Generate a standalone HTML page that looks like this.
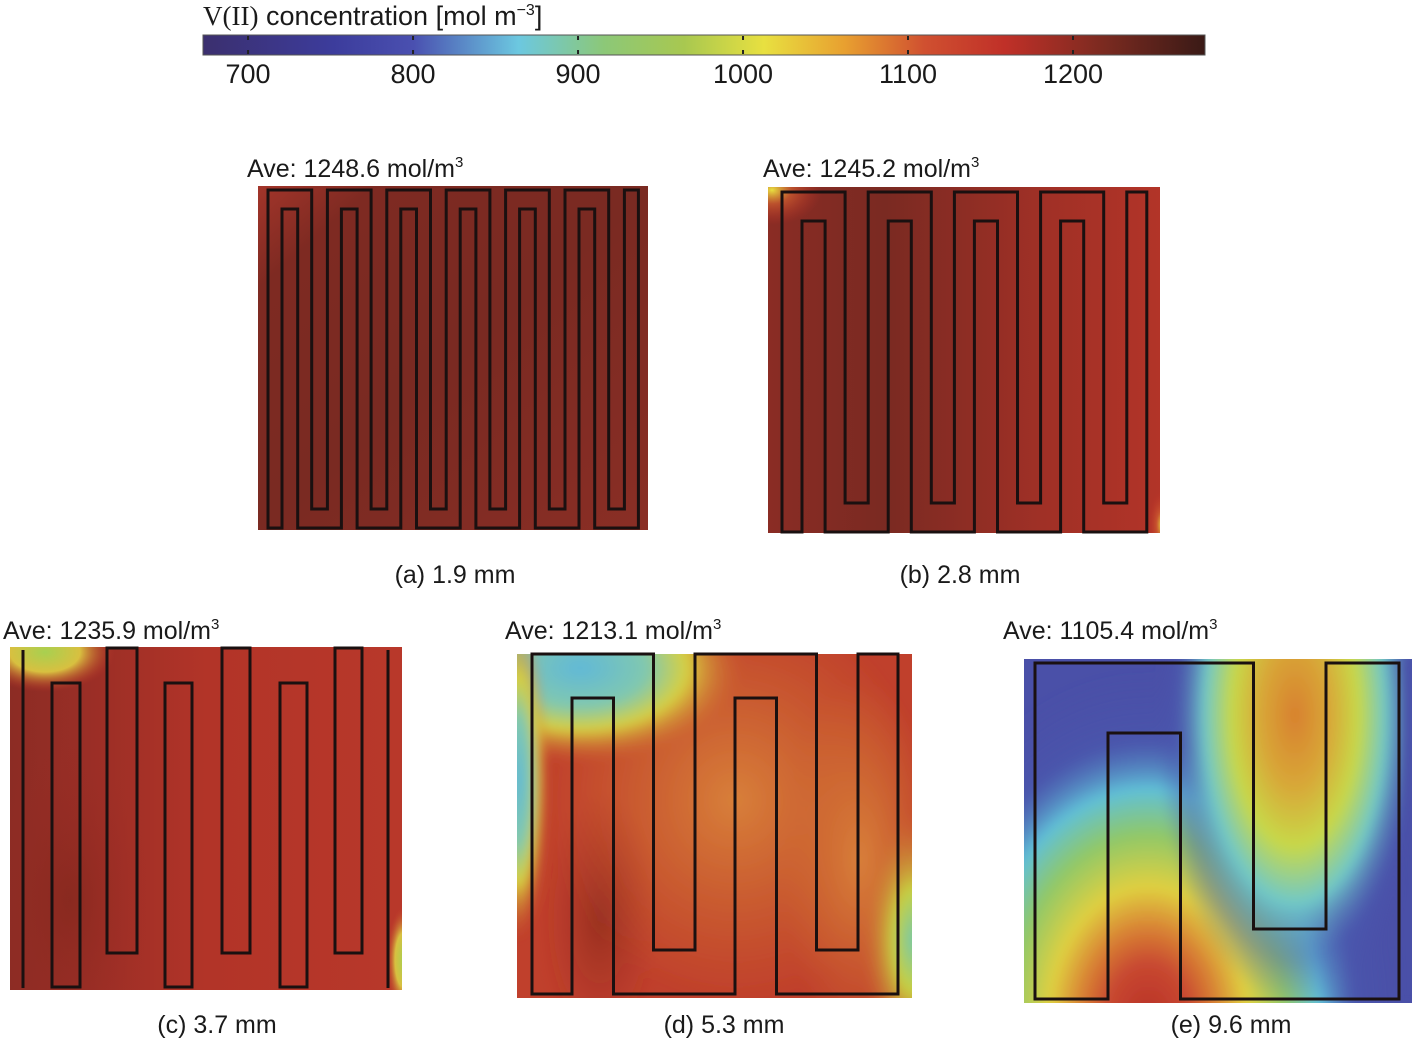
<!DOCTYPE html>
<html><head><meta charset="utf-8"><style>
html,body{margin:0;padding:0;background:#fff;width:1417px;height:1040px;overflow:hidden;}
svg{display:block;}
text{font-family:"Liberation Sans",sans-serif;fill:#1a1a1a;}
</style></head><body>
<svg id="fig" width="1417" height="1040" viewBox="0 0 1417 1040" xmlns="http://www.w3.org/2000/svg">
<defs>
  <linearGradient id="jet" x1="0" x2="1" y1="0" y2="0">
    <stop offset="0" stop-color="#3b2f6e"/>
    <stop offset="0.13" stop-color="#3c3c9c"/>
    <stop offset="0.21" stop-color="#4a50b0"/>
    <stop offset="0.315" stop-color="#6cc8e0"/>
    <stop offset="0.4" stop-color="#8cc878"/>
    <stop offset="0.48" stop-color="#a8c850"/>
    <stop offset="0.56" stop-color="#e8e040"/>
    <stop offset="0.64" stop-color="#e8a030"/>
    <stop offset="0.72" stop-color="#d05030"/>
    <stop offset="0.8" stop-color="#c03028"/>
    <stop offset="0.9" stop-color="#7a2a20"/>
    <stop offset="1" stop-color="#3a1a16"/>
  </linearGradient>
  <linearGradient id="ga" x1="0" x2="1" y1="0" y2="1">
    <stop offset="0" stop-color="#a3352a"/><stop offset="0.15" stop-color="#7e2a22"/>
    <stop offset="0.5" stop-color="#7a2a22"/><stop offset="1" stop-color="#8a2e25"/>
  </linearGradient>
  <linearGradient id="gb" x1="0" x2="1" y1="0" y2="0">
    <stop offset="0" stop-color="#8a2c24"/><stop offset="0.3" stop-color="#7a2a22"/>
    <stop offset="0.7" stop-color="#a03026"/><stop offset="1" stop-color="#b23428"/>
  </linearGradient>
  <radialGradient id="yl" cx="0.5" cy="0.5" r="0.5"><stop offset="0" stop-color="#e8e040"/><stop offset="0.4" stop-color="#d06030" stop-opacity="0.7"/><stop offset="1" stop-color="#c03028" stop-opacity="0"/></radialGradient>
  <linearGradient id="gc" x1="0" x2="1" y1="0" y2="0">
    <stop offset="0" stop-color="#8c2c24"/><stop offset="0.2" stop-color="#9a2e26"/>
    <stop offset="0.5" stop-color="#b23428"/><stop offset="1" stop-color="#b8382a"/>
  </linearGradient>
  <radialGradient id="cTL" cx="0.5" cy="0.5" r="0.5"><stop offset="0" stop-color="#a8d050"/><stop offset="0.5" stop-color="#d8c040"/><stop offset="1" stop-color="#c03028" stop-opacity="0"/></radialGradient>
  <radialGradient id="dTL" cx="0.5" cy="0.5" r="0.5"><stop offset="0" stop-color="#60b8d8"/><stop offset="0.4" stop-color="#80c8b0"/><stop offset="0.65" stop-color="#d8d040"/><stop offset="1" stop-color="#d06030" stop-opacity="0"/></radialGradient>
  <radialGradient id="dR" cx="0.5" cy="0.5" r="0.5"><stop offset="0" stop-color="#70c8b0"/><stop offset="0.4" stop-color="#c8d040"/><stop offset="1" stop-color="#d06030" stop-opacity="0"/></radialGradient>
  <radialGradient id="dark" cx="0.5" cy="0.5" r="0.5"><stop offset="0" stop-color="#7a2418" stop-opacity="0.8"/><stop offset="1" stop-color="#a02c24" stop-opacity="0"/></radialGradient>
  <radialGradient id="orng" cx="0.5" cy="0.5" r="0.5"><stop offset="0" stop-color="#d8803a"/><stop offset="1" stop-color="#d07030" stop-opacity="0"/></radialGradient>
  <radialGradient id="eB" cx="0.5" cy="0.5" r="0.5">
    <stop offset="0" stop-color="#b83028"/><stop offset="0.16" stop-color="#c84830"/><stop offset="0.26" stop-color="#d88034"/>
    <stop offset="0.38" stop-color="#e0d040"/><stop offset="0.53" stop-color="#90c868"/>
    <stop offset="0.66" stop-color="#60c0d8"/><stop offset="0.8" stop-color="#4a5ab0" stop-opacity="0.5"/>
    <stop offset="1" stop-color="#4a50a8" stop-opacity="0"/>
  </radialGradient>
  <radialGradient id="eT" cx="0.5" cy="0.5" r="0.5">
    <stop offset="0" stop-color="#d8802e"/><stop offset="0.25" stop-color="#d8a838"/>
    <stop offset="0.45" stop-color="#c8d848"/><stop offset="0.65" stop-color="#70c8c8"/>
    <stop offset="0.85" stop-color="#4a5ab0" stop-opacity="0.4"/>
    <stop offset="1" stop-color="#4a50a8" stop-opacity="0"/>
  </radialGradient>
  <filter id="blur" x="-20%" y="-20%" width="140%" height="140%"><feGaussianBlur stdDeviation="5"/></filter>
  <clipPath id="clipD"><rect x="517" y="654" width="395" height="344"/></clipPath>
  <clipPath id="clipE"><rect x="1024" y="659" width="388" height="344"/></clipPath>
  <clipPath id="clipC"><rect x="10" y="647" width="392" height="343"/></clipPath>
  <clipPath id="clipB"><rect x="768" y="187" width="392" height="346"/></clipPath>
</defs>

<g>
  <text x="203" y="25" font-size="27"><tspan font-family="Liberation Serif">V(II)</tspan> concentration [mol m<tspan font-size="16" dy="-10">−3</tspan><tspan dy="10">]</tspan></text>
  <rect x="203" y="35" width="1002" height="20" fill="url(#jet)" stroke="#555" stroke-width="1"/>
  <g id="cbticks"></g>
</g>

<g id="panels"></g>
</svg>
<script>
const cbTicks = [700, 800, 900, 1000, 1100, 1200];
const cbMin = 672.7, cbMax = 1280;
const panelLabels = ['(a) 1.9 mm', '(b) 2.8 mm', '(c) 3.7 mm', '(d) 5.3 mm', '(e) 9.6 mm'];
const panelAverages = [1248.6, 1245.2, 1235.9, 1213.1, 1105.4];
const panelLegs = [13, 9, 6, 5, 3];

const NS = 'http://www.w3.org/2000/svg';
const svg = document.getElementById('fig');
function mk(tag, attrs, parent) {
  const e = document.createElementNS(NS, tag);
  for (const k in attrs) e.setAttribute(k, attrs[k]);
  (parent || svg).appendChild(e);
  return e;
}
const cbX = v => 203 + (v - cbMin) / (cbMax - cbMin) * 1002;

const tg = document.getElementById('cbticks');
cbTicks.forEach(v => {
  const x = cbX(v);
  const m = mk('line', {x1: x, x2: x, y1: 36, y2: 40, stroke: '#222', 'stroke-width': 2}, tg);
  
  
  const m2 = mk('line', {x1: x, x2: x, y1: 50, y2: 54, stroke: '#222', 'stroke-width': 2}, tg);
  
  
  const t = mk('text', {x: x, y: 83, 'font-size': 27, 'text-anchor': 'middle'}, tg);
  
  
  t.textContent = v;
});

const geo = [
  {img:[258,186,390,344], bg:'url(#ga)', x0:268, w:14, pitch:29.7, ytop:190, ybot:528, bt:19, ave:[247,177], cap:[455,583]},
  {img:[768,187,392,346], bg:'url(#gb)', x0:782, w:20, pitch:43.1, ytop:192, ybot:532, bt:29, ave:[763,177], cap:[960,583]},
  {img:[10,647,392,343], bg:'url(#gc)', ave:[3,639], cap:[217,1033]},
  {img:[517,654,395,344], bg:'#c0402c', x0:532, w:40, pitch:81.5, ytop:654, ybot:994, bt:44, ave:[505,639], cap:[724,1033]},
  {img:[1024,659,388,344], bg:'#4a50a8', x0:1035, w:73, pitch:145.5, ytop:663, ybot:999, bt:70, ave:[1003,639], cap:[1231,1033]}
];

const pg = document.getElementById('panels');
function serpentine(g, N) {
  const xl = i => g.x0 + i * g.pitch, xr = i => xl(i) + g.w;
  const L = N - 1, pts = [];
  pts.push([xl(0), g.ybot]);
  for (let i = 0; i < N; i++) {
    if (i % 2 === 0) {
      if (i > 0) pts.push([xl(i), g.ybot - g.bt]);
      pts.push([xl(i), g.ytop]);
      if (i + 1 < N) pts.push([xr(i + 1), g.ytop]); else pts.push([xr(i), g.ytop]);
    } else {
      pts.push([xr(i), g.ybot - g.bt]);
    }
  }
  pts.push([xr(L), g.ybot]);
  for (let i = L - 1; i >= 0; i -= 2) {
    pts.push([xl(i), g.ybot]);
    pts.push([xl(i), g.ytop + g.bt]);
    pts.push([xr(i - 1), g.ytop + g.bt]);
    pts.push([xr(i - 1), g.ybot]);
  }
  return pts.map(p => p.join(',')).join(' ');
}

panelLabels.forEach((lab, k) => {
  const g = geo[k];
  const grp = mk('g', {}, pg);
  
  
  const [x, y, w, h] = g.img;
  const bg = mk('rect', {x, y, width: w, height: h, fill: g.bg}, grp);
  
  
  const ov = mk('g', {}, grp);
  
  
  if (k === 1) {
    ov.setAttribute('clip-path', 'url(#clipB)');
    mk('ellipse', {cx: 772, cy: 190, rx: 50, ry: 35, fill: 'url(#yl)'}, ov);
    mk('ellipse', {cx: 1162, cy: 525, rx: 14, ry: 35, fill: 'url(#yl)'}, ov);
  }
  if (k === 2) {
    ov.setAttribute('clip-path', 'url(#clipC)');
    mk('ellipse', {cx: 45, cy: 652, rx: 70, ry: 40, fill: 'url(#cTL)'}, ov);
    mk('ellipse', {cx: 404, cy: 960, rx: 18, ry: 55, fill: 'url(#cTL)'}, ov);
    mk('ellipse', {cx: 70, cy: 900, rx: 80, ry: 160, fill: 'url(#dark)', opacity: 0.6}, ov);
  }
  if (k === 3) {
    ov.setAttribute('clip-path', 'url(#clipD)');
    ov.setAttribute('filter', 'url(#blur)');
    mk('ellipse', {cx: 735, cy: 800, rx: 190, ry: 200, fill: 'url(#orng)'}, ov);
    mk('ellipse', {cx: 860, cy: 860, rx: 80, ry: 180, fill: 'url(#orng)'}, ov);
    mk('ellipse', {cx: 600, cy: 920, rx: 60, ry: 130, fill: 'url(#dark)', opacity: 0.7}, ov);
    mk('ellipse', {cx: 580, cy: 668, rx: 165, ry: 95, fill: 'url(#dTL)'}, ov);
    mk('ellipse', {cx: 518, cy: 780, rx: 30, ry: 160, fill: 'url(#dTL)'}, ov);
    mk('ellipse', {cx: 915, cy: 940, rx: 55, ry: 130, fill: 'url(#dR)'}, ov);
  }
  if (k === 4) {
    ov.setAttribute('clip-path', 'url(#clipE)');
    ov.setAttribute('filter', 'url(#blur)');
    mk('ellipse', {cx: 1148, cy: 1020, rx: 260, ry: 350, fill: 'url(#eB)'}, ov);
    mk('ellipse', {cx: 1295, cy: 715, rx: 140, ry: 290, fill: 'url(#eT)'}, ov);
    mk('rect', {x: 1402, y: 659, width: 10, height: 344, fill: '#4a50a8'}, ov);
  }
  if (k === 2) {
    const rects = [[52,683,28,304],[107,648,30,305],[165,683,27,304],[222,648,28,305],[280,683,27,304],[335,648,27,305]];
    rects.forEach(r => {
      const e = mk('rect', {x: r[0], y: r[1], width: r[2], height: r[3], fill: 'none', stroke: '#1a1010', 'stroke-width': 3}, grp);
      
      
    });
    [23, 388].forEach(xx => {
      const e = mk('line', {x1: xx, x2: xx, y1: 650, y2: 988, stroke: '#1a1010', 'stroke-width': 3}, grp);
      
      
    });
  } else {
    const p = mk('polygon', {points: serpentine(g, panelLegs[k]), fill: 'none', stroke: '#1a1010', 'stroke-width': 3}, grp);
    
    
  }
  const t = mk('text', {x: g.ave[0], y: g.ave[1], 'font-size': 25}, grp);
  
  
  t.innerHTML = 'Ave: ' + panelAverages[k].toFixed(1) + ' mol/m<tspan font-size="15" dy="-10">3</tspan>';
  const c = mk('text', {x: g.cap[0], y: g.cap[1], 'font-size': 25, 'text-anchor': 'middle'}, grp);
  
  
  c.textContent = lab;
});
</script>
</body></html>
